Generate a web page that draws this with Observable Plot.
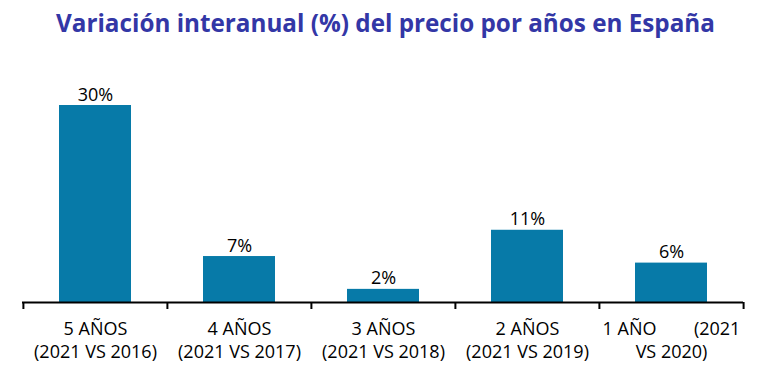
<!DOCTYPE html>
<html>
<head>
<meta charset="utf-8">
<script src="https://cdn.jsdelivr.net/npm/d3@7"></script>
<script src="https://cdn.jsdelivr.net/npm/@observablehq/plot@0.6"></script>
<style>
  html, body { margin: 0; padding: 0; background: #fff; }
  #wrap { width: 768px; height: 375px; position: relative; overflow: hidden; }
  #title { height: 46px; line-height: 46px; white-space: nowrap; text-align: center;
    font-family: "Open Sans", sans-serif; font-weight: 700; color: #3337A6; font-size: 22px;
    padding-left: 3px; }
  svg { display: block; }
</style>
</head>
<body>
<div id="wrap">
  <div id="title">Variación interanual (%) del precio por años en España</div>
  <div id="chart"></div>
</div>
<script>
const categories = ["5 AÑOS", "4 AÑOS", "3 AÑOS", "2 AÑOS", "1 AÑO"];
const tickLabels = [
  "5 AÑOS\n(2021 VS 2016)",
  "4 AÑOS\n(2021 VS 2017)",
  "3 AÑOS\n(2021 VS 2018)",
  "2 AÑOS\n(2021 VS 2019)",
  "1 AÑO\u00A0\u00A0\u00A0\u00A0\u00A0\u00A0\u00A0\u00A0(2021\nVS 2020)"
];
const values = [30, 7, 2, 11, 6];
const valueLabels = ["30%", "7%", "2%", "11%", "6%"];

const data = categories.map((c, i) => ({cat: c, value: values[i], label: valueLabels[i], tick: tickLabels[i]}));

// fit title width
const t = document.getElementById("title");
const ctx = document.createElement("canvas").getContext("2d");
let fs = 22;
for (let s = 18; s <= 30; s += 0.25) {
  ctx.font = `700 ${s}px "Open Sans"`;
  if (ctx.measureText(t.textContent).width <= 661) fs = s;
}
t.style.fontSize = fs + "px";

const W = 768, H = 329, ML = 22, MR = 25;
const step = (W - ML - MR) / categories.length;
const tickMap = new Map(data.map(d => [d.cat, d.tick]));

const chart = Plot.plot({
  width: W,
  height: H,
  marginLeft: ML,
  marginRight: MR,
  marginTop: 59,
  marginBottom: 73,
  style: {fontFamily: "'Open Sans', sans-serif", fontSize: "18px", color: "#000", background: "#fff"},
  x: {domain: categories, paddingInner: 0.5, paddingOuter: 0.25, label: null},
  y: {domain: [0, 30], axis: null},
  marks: [
    Plot.barY(data, {x: "cat", y: "value", fill: "#077AA8"}),
    Plot.text(data, {x: "cat", y: "value", text: "label", lineAnchor: "bottom", dy: -5, fill: "#000", fontSize: 18}),
    Plot.ruleY([0], {stroke: "#000", strokeWidth: 2}),
    Plot.axisX({tickSize: 7, dx: -step / 2, tickFormat: () => "", label: null, stroke: "#000", strokeWidth: 2}),
    Plot.axisX([categories[categories.length - 1]], {tickSize: 7, dx: step / 2, tickFormat: () => "", label: null, stroke: "#000", strokeWidth: 2}),
    Plot.axisX({tickSize: 0, tickPadding: 15, tickFormat: d => tickMap.get(d), label: null, lineHeight: 1.33, fontSize: 18, fill: "#000"})
  ]
});
document.getElementById("chart").appendChild(chart);
</script>
</body>
</html>
